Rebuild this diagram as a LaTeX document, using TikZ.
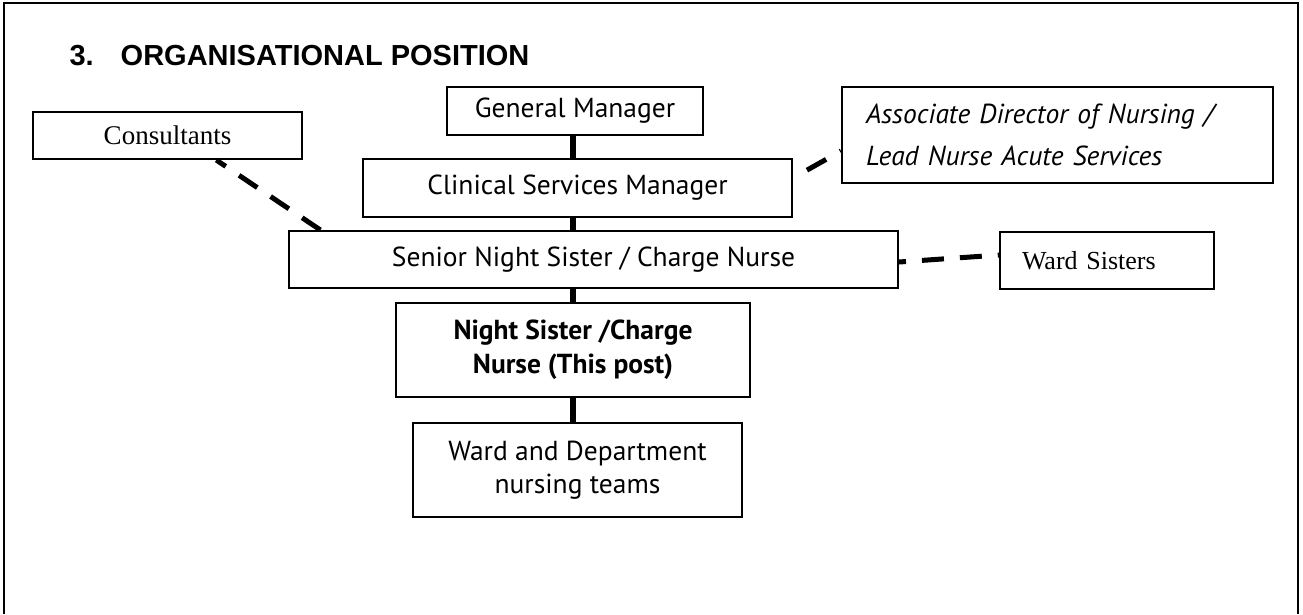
\documentclass[tikz,border=0pt]{standalone}
\usepackage{fontspec}
\setmainfont{PT Sans}
\newfontfamily\titlefont{Liberation Sans}
\newfontfamily\timesfont{Liberation Serif}
\usetikzlibrary{calc}

\tikzset{
  orgbox/.style={draw, line width=2pt, inner sep=0pt, align=center, font=\fontsize{27.5}{33.5}\selectfont},
  orgline/.style={line width=6.5pt},
  dashlink/.style={line width=5pt, dash pattern=on 22pt off 16pt},
}

\begin{document}
\begin{tikzpicture}[x=1pt,y=-1pt]
\useasboundingbox (0,0) rectangle (1303,614);
\draw[line width=2.5pt] (4,614) -- (4,3) -- (1298,3) -- (1298,614);

\node[anchor=base west, font=\titlefont\bfseries\fontsize{29}{35}\selectfont] (title) at (66,65) {3.\hspace{27pt}ORGANISATIONAL POSITION};

\node[orgbox, minimum width=256pt, minimum height=48pt] (gm) at (575,111) {General Manager};
\node[orgbox, minimum width=429pt, minimum height=58pt] (csm) at (577.5,188) {Clinical Services Manager};
\node[orgbox, font=\itshape\fontsize{27.5}{42}\selectfont, align=left, text width=383pt, inner xsep=24pt, minimum height=96pt] (adn) at (1057.5,135) {Associate Director of Nursing /\\Lead Nurse Acute Services\par\vspace{18pt}};
\node[orgbox, font=\timesfont\fontsize{27}{32}\selectfont, minimum width=269pt, minimum height=47pt] (cons) at (167.5,135.5) {Consultants};
\node[orgbox, minimum width=609pt, minimum height=57pt] (snr) at (593.5,259.5) {Senior Night Sister / Charge Nurse};
\node[orgbox, font=\timesfont\fontsize{26}{31}\selectfont, align=left, text width=170pt, inner xsep=22pt, minimum height=57pt] (ward) at (1107,260.5) {Ward Sisters};
\node[orgbox, font=\bfseries\fontsize{27.5}{34}\selectfont, minimum width=354pt, minimum height=94pt] (ns) at (573,350) {Night Sister /Charge\\Nurse (This post)};
\node[orgbox, minimum width=329pt, minimum height=94pt] (wd) at (577.5,470) {Ward and Department\\nursing teams};

% line management
\draw[orgline] (gm.south -| ns.north) -- (csm.north -| ns.north);
\draw[orgline] (csm.south -| ns.north) -- (snr.north -| ns.north);
\draw[orgline] (snr.south -| ns.north) -- (ns.north);
\draw[orgline] (ns.south) -- (wd.north -| ns.south);

% professional links
\draw[dashlink] ($(snr.north west)!0.053!(snr.north east)$) -- ($(cons.south west)!0.68!(cons.south east)$);
\draw[dashlink, dash phase=22pt] ($(csm.east)+(0,-10)$) -- ($(adn.west)+(0,16)$);
\draw[dashlink, dash phase=15pt] ($(snr.east)+(0,2.5)$) -- ($(ward.west)+(0,-5.5)$);
\end{tikzpicture}
\end{document}
